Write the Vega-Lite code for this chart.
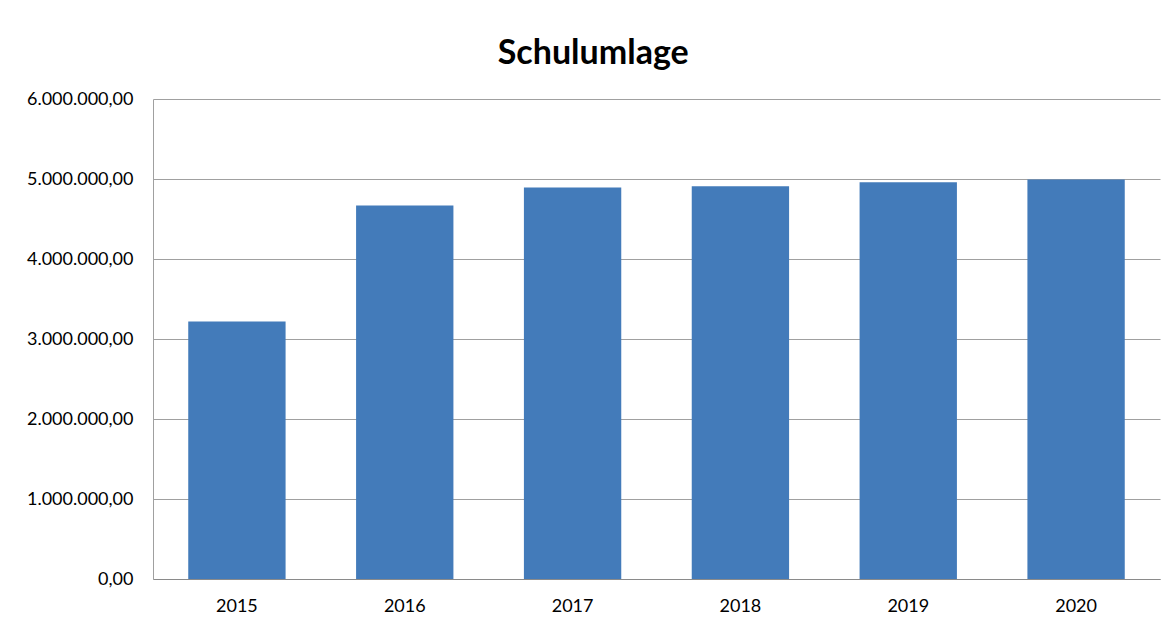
{
  "$schema": "https://vega.github.io/schema/vega-lite/v6.json",
  "width": 1007,
  "height": 480,
  "autosize": {"type": "none"},
  "padding": {"left": 153, "top": 99, "right": 14, "bottom": 43},
  "background": "white",
  "title": {
    "text": "Schulumlage",
    "font": "Lato",
    "fontSize": 34,
    "fontWeight": "bold",
    "color": "#000000",
    "anchor": "middle",
    "frame": "bounds",
    "baseline": "alphabetic",
    "offset": -8
  },
  "data": {
    "values": [
      {"year": "2015", "value": 3220000},
      {"year": "2016", "value": 4670000},
      {"year": "2017", "value": 4895000},
      {"year": "2018", "value": 4910000},
      {"year": "2019", "value": 4960000},
      {"year": "2020", "value": 4995000}
    ]
  },
  "mark": {"type": "bar", "color": "#437BBA"},
  "encoding": {
    "x": {
      "field": "year",
      "type": "ordinal",
      "scale": {"paddingInner": 0.42, "paddingOuter": 0.21},
      "axis": {
        "title": null,
        "labelAngle": 0,
        "ticks": false,
        "domainColor": "#8a8a8a",
        "labelFont": "Lato",
        "labelFontSize": 18,
        "labelFontWeight": "normal",
        "labelColor": "#000000",
        "labelPadding": 18
      }
    },
    "y": {
      "field": "value",
      "type": "quantitative",
      "scale": {"domain": [0, 6000000]},
      "axis": {
        "title": null,
        "values": [0, 1000000, 2000000, 3000000, 4000000, 5000000, 6000000],
        "format": ",.2f",
        "ticks": false,
        "grid": true,
        "gridColor": "#a0a0a0",
        "domainColor": "#a0a0a0",
        "labelFont": "Lato",
        "labelFontSize": 18,
        "labelFontWeight": "normal",
        "labelColor": "#000000",
        "labelPadding": 20
      }
    }
  },
  "config": {
    "view": {"stroke": null},
    "locale": {
      "number": {
        "decimal": ",",
        "thousands": ".",
        "grouping": [3],
        "currency": ["", " €"]
      }
    }
  }
}
